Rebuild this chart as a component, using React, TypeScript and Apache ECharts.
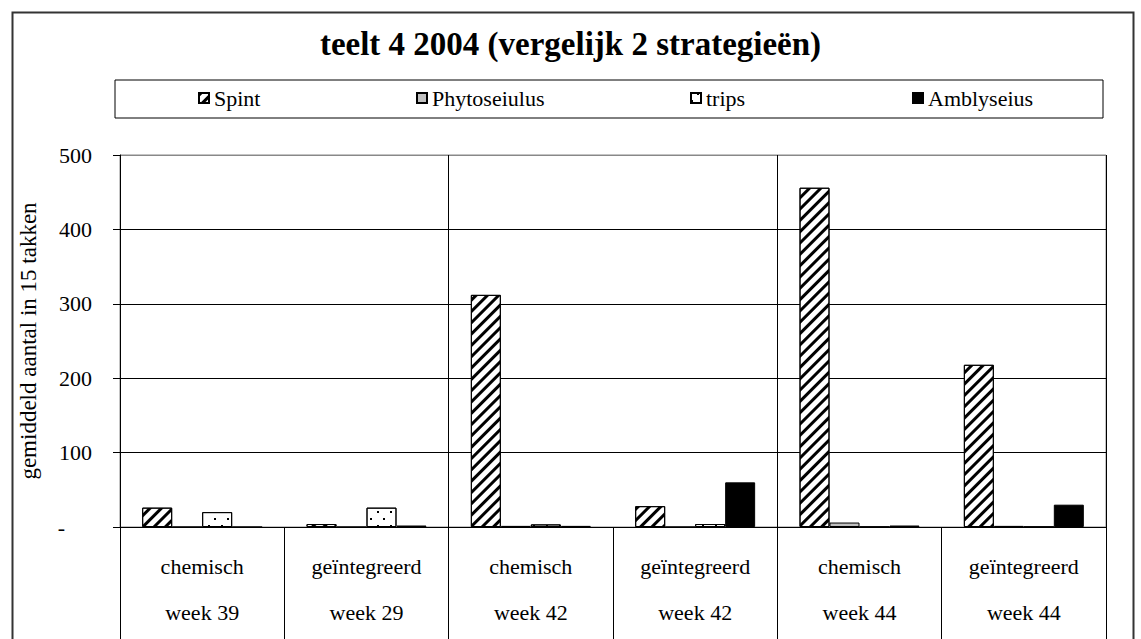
import React, { useEffect, useRef } from "react";
import * as echarts from "echarts";

const strategies = ["chemisch", "geïntegreerd", "chemisch", "geïntegreerd", "chemisch", "geïntegreerd"];
const weeks = ["week 39", "week 29", "week 42", "week 42", "week 44", "week 44"];
const spint = [26, 4, 312, 28, 456, 218];
const phytoseiulus = [0, 0, 1.5, 0, 6, 1.5];
const trips = [20, 26, 3.5, 4, 0, 0];
const amblyseius = [0, 2, 1.5, 60, 2, 30];
const yTicks = [0, 100, 200, 300, 400, 500];

const FONT = "Liberation Serif";

export default function App() {
  const ref = useRef<HTMLDivElement>(null);
  useEffect(() => {
    const chart = echarts.init(ref.current!, null, { renderer: "svg" });
    const categories = strategies.map((s, i) => s + "\n" + weeks[i]);
    const border = { borderColor: "#000", borderWidth: 1 };
    const option: any = {
      animation: false,
      backgroundColor: "#fff",
      textStyle: { fontFamily: FONT, color: "#000" },
      title: {
        text: "teelt 4 2004 (vergelijk 2 strategieën)",
        left: "center",
        top: 22,
        textStyle: { fontFamily: FONT, fontWeight: "bold", fontSize: 33, color: "#000" },
      },
      legend: [
        { name: "Spint", x: 198 },
        { name: "Phytoseiulus", x: 416 },
        { name: "trips", x: 690 },
        { name: "Amblyseius", x: 912 },
      ].map((l) => ({
        data: [l.name],
        left: l.x,
        top: 87,
        padding: 0,
        icon: "rect",
        itemWidth: 10,
        itemHeight: 10,
        itemGap: 0,
        selectedMode: false,
        textStyle: { fontFamily: FONT, fontSize: 22, color: "#000" },
      })),
      grid: {
        left: 120,
        right: 35,
        top: 155,
        bottom: 112,
        show: true,
        borderColor: "#888",
        borderWidth: 1,
        containLabel: false,
      },
      xAxis: {
        type: "category",
        data: categories,
        boundaryGap: true,
        axisLine: { lineStyle: { color: "#000", width: 1 } },
        axisTick: { show: true, interval: 0, length: 116, lineStyle: { color: "#000" } },
        axisLabel: {
          interval: 0,
          margin: 16,
          fontFamily: FONT,
          fontSize: 22,
          color: "#000",
          lineHeight: 46,
        },
        splitLine: {
          show: true,
          interval: (i: number) => i === 2 || i === 4,
          lineStyle: { color: "#000", width: 1 },
        },
      },
      yAxis: {
        type: "value",
        min: 0,
        max: 500,
        interval: 100,
        name: "gemiddeld aantal in 15 takken",
        nameLocation: "middle",
        nameGap: 80,
        nameTextStyle: { fontFamily: FONT, fontSize: 23, color: "#000" },
        axisLine: { show: true, lineStyle: { color: "#000" } },
        axisTick: { show: true, length: 7, lineStyle: { color: "#000" } },
        axisLabel: {
          margin: 28,
          fontFamily: FONT,
          fontSize: 22,
          color: "#000",
          formatter: (v: number) => (v === yTicks[0] ? "{d|-}" : String(v)),
          rich: { d: { fontFamily: FONT, fontSize: 22, color: "#000", padding: [0, 27, 0, 0] } },
        },
        splitLine: {
          show: true,
          lineStyle: { color: ["#000", "#000", "#000", "#000", "#000", "#888"], width: 1 },
        },
      },
      series: [
        {
          name: "Spint",
          type: "bar",
          data: spint,
          barGap: "0%",
          barCategoryGap: "27%",
          itemStyle: {
            color: "#fff",
            ...border,
            decal: {
              symbol: "rect",
              symbolSize: 1,
              color: "#000",
              dashArrayX: [1, 0],
              dashArrayY: [3, 4.5],
              rotation: -Math.PI / 4,
            },
          },
        },
        {
          name: "Phytoseiulus",
          type: "bar",
          data: phytoseiulus,
          itemStyle: { color: "#c0c0c0", ...border },
        },
        {
          name: "trips",
          type: "bar",
          data: trips,
          itemStyle: {
            color: "#fff",
            ...border,
            decal: {
              symbol: "rect",
              symbolSize: 1,
              color: "#000",
              dashArrayX: [[1.5, 10.5], [0, 6, 1.5, 4.5]],
              dashArrayY: [1.5, 5],
              rotation: 0,
            },
          },
        },
        {
          name: "Amblyseius",
          type: "bar",
          data: amblyseius,
          itemStyle: { color: "#000", ...border },
        },
      ],
      graphic: [
        {
          type: "rect",
          left: 10,
          top: 10,
          shape: { x: 0, y: 0, width: 1121, height: 700 },
          style: { fill: "none", stroke: "#333", lineWidth: 2 },
          silent: true,
        },
        {
          type: "rect",
          shape: { x: 115, y: 80, width: 988, height: 38 },
          style: { fill: "none", stroke: "#000", lineWidth: 1 },
          silent: true,
        },
      ],
    };
    chart.setOption(option);
    return () => chart.dispose();
  }, []);
  return (
    <div
      ref={ref}
      style={{ position: "fixed", left: 0, top: 0, width: 1141, height: 639, background: "#fff" }}
    />
  );
}
